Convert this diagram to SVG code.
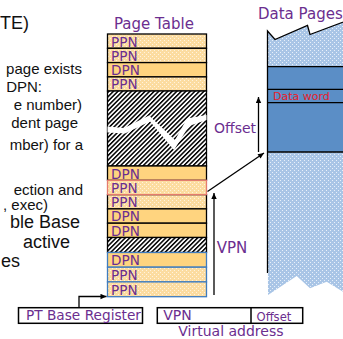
<svg xmlns="http://www.w3.org/2000/svg" width="343" height="339" viewBox="0 0 343 339">
<defs>
<style>
.bt{font-family:"Liberation Sans",Arial,sans-serif;fill:#111;text-anchor:end}
.s{font-size:15px}
.b{font-size:18px}
.lbl{font-family:"DejaVu Sans",Verdana,sans-serif;fill:#6B2E8F}
.cell{font-family:"DejaVu Sans",Verdana,sans-serif;fill:#6B2E8F;font-size:13.6px}
.ppn{fill:url(#dotO);stroke:#000;stroke-width:1.3}
.dpn{fill:#FFD47F;stroke:#000;stroke-width:1.3}
.hat{fill:url(#hatch);stroke:#000;stroke-width:1.3}
.red{stroke:#E57B6F}
.blu{stroke:#3F7CBF}
.box{fill:#fff;stroke:#000;stroke-width:1.5}
.con{fill:none;stroke:#000;stroke-width:1.3}
</style>
<pattern id="dotO" width="4" height="4" patternUnits="userSpaceOnUse"><rect width="4" height="4" fill="#FCDCA0"/><rect width="1" height="1" fill="#FFF3DE"/><rect x="2" y="2" width="1" height="1" fill="#FFF3DE"/></pattern>
<pattern id="dotB" width="4" height="4" patternUnits="userSpaceOnUse"><rect width="4" height="4" fill="#A9C5E6"/><rect width="1" height="1" fill="#E8F0FA"/><rect x="2" y="2" width="1" height="1" fill="#E8F0FA"/></pattern>
<pattern id="hatch" width="3.2" height="4" patternUnits="userSpaceOnUse" patternTransform="rotate(45)"><rect width="3.2" height="4" fill="#fff"/><rect width="1.5" height="4" fill="#000"/></pattern>
<marker id="ah" viewBox="0 0 10 10" refX="10" refY="5" markerWidth="7" markerHeight="6" markerUnits="userSpaceOnUse" orient="auto"><path d="M0,0.5 L10,5 L0,9.5z" fill="#000"/></marker>
</defs>

<g id="bullets">
<text class="bt b" x="29" y="29">TE)</text>
<text class="bt s" x="82" y="74">page exists</text>
<text class="bt s" x="42" y="92">DPN:</text>
<text class="bt s" x="82" y="110">e number)</text>
<text class="bt s" x="78" y="128">dent page</text>
<text class="bt s" x="83" y="150">mber) for a</text>
<text class="bt s" x="83" y="195">ection and</text>
<text class="bt s" x="48" y="210">, exec)</text>
<text class="bt b" x="80" y="228">ble Base</text>
<text class="bt b" x="70" y="248">active</text>
<text class="bt b" x="20" y="267">es</text>
</g>

<g id="page-table">
<text class="lbl" x="114" y="28.5" font-size="15">Page Table</text>
<g id="pt-r1"><rect class="ppn" x="107.5" y="34" width="99" height="14.3"/><text class="cell" x="111" y="46.5">PPN</text></g>
<g id="pt-r2"><rect class="ppn" x="107.5" y="48.3" width="99" height="14.3"/><text class="cell" x="111" y="60.8">PPN</text></g>
<g id="pt-r3"><rect class="dpn" x="107.5" y="62.6" width="99" height="14.3"/><text class="cell" x="111" y="75.1">DPN</text></g>
<g id="pt-r4"><rect class="ppn" x="107.5" y="76.9" width="99" height="14.1"/><text class="cell" x="111" y="89.3">PPN</text></g>
<g id="pt-gap1"><rect class="hat" x="107.5" y="91" width="99" height="75"/>
<polygon points="107.5,126.5 124,128 149,115.5 175,140 187,118.5 206.5,115 206.5,120 189,126 174,150 150,121.5 125,133.5 107.5,132.5" fill="#fff"/></g>
<g id="pt-r5"><rect class="dpn" x="107.5" y="166" width="99" height="14.3"/><text class="cell" x="111" y="178.5">DPN</text></g>
<g id="pt-r7"><rect class="ppn" x="107.5" y="194.6" width="99" height="14.3"/><text class="cell" x="111" y="207.1">PPN</text></g>
<g id="pt-r6"><rect class="ppn red" x="107.5" y="180.3" width="99" height="14.3"/><text class="cell" x="111" y="192.8">PPN</text></g>
<g id="pt-r8"><rect class="dpn" x="107.5" y="208.9" width="99" height="14.3"/><text class="cell" x="111" y="221.4">DPN</text></g>
<g id="pt-r9"><rect class="dpn" x="107.5" y="223.2" width="99" height="14.3"/><text class="cell" x="111" y="235.7">DPN</text></g>
<g id="pt-gap2"><rect class="hat" x="107.5" y="237.5" width="99" height="15"/></g>
<g id="pt-r10"><rect class="dpn blu" x="107.5" y="252.5" width="99" height="14.7"/><text class="cell" x="111" y="265.1">DPN</text></g>
<g id="pt-r11"><rect class="ppn blu" x="107.5" y="267.2" width="99" height="14.7"/><text class="cell" x="111" y="279.8">PPN</text></g>
<g id="pt-r12"><rect class="ppn blu" x="107.5" y="281.9" width="99" height="14.8"/><text class="cell" x="111" y="294.5">PPN</text></g>
</g>

<g id="data-pages">
<text class="lbl" x="258" y="18.5" font-size="15">Data Pages</text>
<polygon points="267.5,31 275,39.5 307.5,25.5 310,34.5 350,19.5 350,66.7 267.5,66.7" fill="url(#dotB)"/>
<rect x="267.5" y="66.7" width="83" height="85.3" fill="#5B8EC6"/>
<polygon points="267.5,152 350,152 350,291 343,291.7 326.7,281.7 310,288.3 296.7,276 268,295" fill="url(#dotB)"/>
<polyline points="267.5,273 267.5,31 275,39.5 307.5,25.5 310,34.5 350,19.5" class="con"/>
<path d="M267.5,66.7H343M267.5,89.3H343M267.5,102.7H343M267.5,152H343" class="con"/>
<text x="273" y="100" font-family="DejaVu Sans,Verdana,sans-serif" font-size="11" fill="#E8202A">Data word</text>
</g>

<g id="pt-base-register">
<rect class="box" x="18.5" y="307.7" width="124" height="15.6"/>
<text class="lbl" x="26" y="320" font-size="13.7">PT Base Register</text>
</g>

<g id="virtual-address">
<rect class="box" x="157.3" y="307.7" width="145.4" height="15.6"/>
<line x1="251" y1="307.7" x2="251" y2="323.3" stroke="#000" stroke-width="1.5"/>
<text class="lbl" x="163.3" y="320" font-size="14">VPN</text>
<text class="lbl" x="256.5" y="320.5" font-size="11.6">Offset</text>
<text class="lbl" x="178.3" y="336" font-size="14">Virtual address</text>
</g>

<g id="connectors">
<path class="con" d="M79,307.7V296.5H106.5" marker-end="url(#ah)"/>
<path class="con" d="M214,295V193" marker-end="url(#ah)"/>
<path class="con" d="M207.5,191.5L264,153" marker-end="url(#ah)"/>
<path class="con" d="M258.5,152V97" marker-end="url(#ah)"/>
<text class="lbl" x="214" y="133" font-size="14">Offset</text>
<text class="lbl" x="216.7" y="252.7" font-size="15">VPN</text>
</g>
</svg>
